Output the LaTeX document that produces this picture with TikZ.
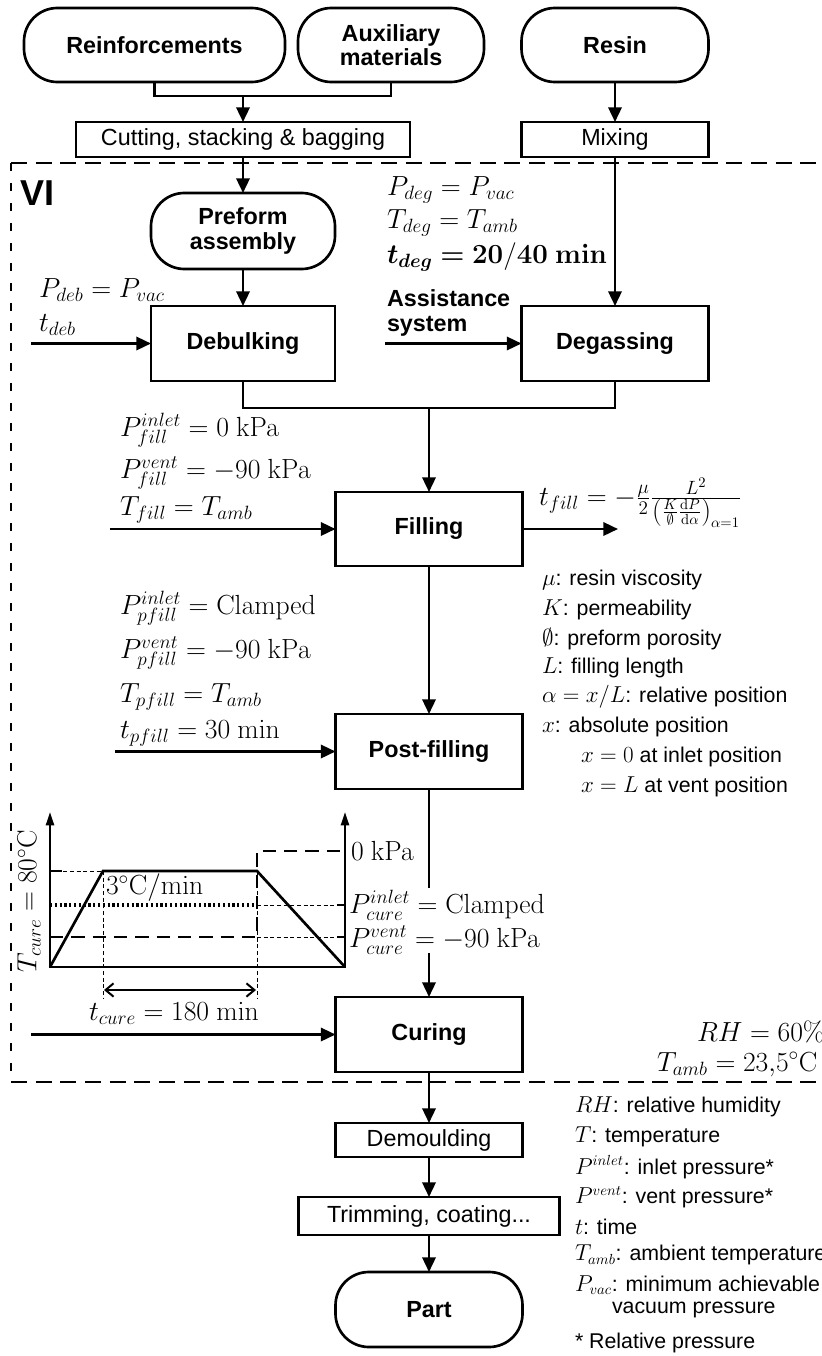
\documentclass[tikz,border=0pt]{standalone}
\usepackage[no-math]{fontspec}
\usepackage{bm}
\setmainfont{Liberation Sans}
\usetikzlibrary{arrows.meta,calc}

\tikzset{
  every node/.style={inner sep=0pt, outer sep=0pt},
  boxfont/.style={font=\fontsize{17.5}{18}\selectfont},
  boldfont/.style={font=\fontsize{17.5}{18}\selectfont\bfseries},
  proc/.style={draw, line width=2pt, rectangle, boldfont, align=center,
    minimum width=140.25pt, minimum height=56.25pt},
  plainbox/.style={draw, line width=2pt, rectangle, boxfont, align=center,
    minimum width=140.25pt, minimum height=26.25pt},
  pill/.style={draw, line width=2pt, rectangle, rounded corners=25pt,
    font=\fontsize{17.5}{18.5}\selectfont\bfseries, align=center,
    minimum width=140.25pt, minimum height=55.5pt},
  mathlbl/.style={anchor=west, font=\fontsize{19.5}{22}\selectfont},
  legend/.style={anchor=west, font=\fontsize{16}{19}\selectfont},
  link/.style={line width=1.8pt},
  flow/.style={line width=1.8pt, -{Triangle[length=11pt,width=10pt]}},
  border/.style={line width=1.8pt},
  gline/.style={line width=2pt, line join=miter},
  gaxis/.style={line width=1.8pt, -{Triangle[length=10pt,width=6pt]}},
  gdash/.style={line width=2.2pt, dash pattern=on 10pt off 6pt},
  gdot/.style={line width=2.6pt, dash pattern=on 1.6pt off 2pt},
  thin guide/.style={line width=0.6pt, dash pattern=on 3pt off 2pt},
}

\begin{document}
\begin{tikzpicture}[x=0.75pt, y=-0.75pt]
\useasboundingbox (0,0) rectangle (821,1356);

% --- dashed frame of the process (right side runs off the page)
\draw[border, dash pattern=on 12pt off 6.5pt] (11,163) -- (840,163);
\draw[border, dash pattern=on 12pt off 6.5pt] (11,1082) -- (840,1082);
\draw[border, dash pattern=on 6pt off 9pt] (11,163) -- (11,1082);
\node[anchor=west, font=\fontsize{27}{28}\selectfont\bfseries] (vi) at (20,193) {VI};

% --- raw materials
\node[pill, minimum width=195.75pt] (reinf) at (154.5,45) {Reinforcements};
\node[pill, minimum width=139.5pt] (aux) at (391,45) {Auxiliary\\materials};
\node[pill, minimum width=140.25pt] (resin) at (615,45) {Resin};

\node[plainbox, minimum width=250.5pt] (cut) at (243,139.5) {Cutting, stacking \& bagging};
\node[plainbox] (mix) at (615,139.5) {Mixing};

\coordinate (j1) at (243,96);
\draw[link] (reinf.south) |- (j1) -| (aux.south);
\draw[flow] (j1) -- (cut.north);
\draw[flow] (resin) -- (mix);

% --- preform and resin preparation
\node[pill, minimum width=138pt, minimum height=57pt] (pre) at (243,231) {Preform\\assembly};
\node[proc, minimum width=138pt] (deb) at (243,343.5) {Debulking};
\node[proc] (deg) at (615,343.5) {Degassing};

\draw[flow] (cut) -- (pre);
\draw[flow] (pre) -- (deb);
\draw[flow] (mix) -- (deg);

\node[mathlbl] (pdeg) at (387,190) {$P_{deg} = P_{vac}$};
\node[mathlbl] (tdeg) at (387,223) {$T_{deg} = T_{amb}$};
\node[mathlbl] (ttdeg) at (387,257) {$\bm{t_{deg}} \bm{=} \mathbf{20/40\ min}$};
\node[mathlbl] (pdeb) at (39,290) {$P_{deb} = P_{vac}$};
\node[mathlbl] (tdeb) at (39,325) {$t_{deb}$};
\node[anchor=west, font=\fontsize{17.5}{19}\selectfont\bfseries, align=left] (assist) at (387,313) {Assistance\\system};

\coordinate (i1) at (31,343.5);
\coordinate (i2) at (385,343.5);
\draw[flow] (i1) -- (deb.west);
\draw[flow] (i2) -- (deg.west);

% --- filling
\node[proc, minimum height=55.5pt] (fill) at (429,529) {Filling};
\coordinate (j2) at (429,408);
\draw[link] (deb.south) |- (j2) -| (deg.south);
\draw[flow] (j2) -- (fill.north);

\node[mathlbl] (pfi) at (120,430) {$P_{fill}^{inlet} = 0\ \mathrm{kPa}$};
\node[mathlbl] (pfv) at (120,473) {$P_{fill}^{vent} = -90\ \mathrm{kPa}$};
\node[mathlbl] (tf) at (120,510) {$T_{fill} = T_{amb}$};
\coordinate (i3) at (110,529);
\draw[flow] (i3) -- (fill.west);
\coordinate (o1) at (618,529);
\draw[flow] (fill.east) -- (o1);
\node[anchor=base west, font=\fontsize{21.5}{24}\selectfont] (tfill) at (539,505)
  {$t_{fill} = -\frac{\mu}{2}\frac{L^2}{\left(\frac{K}{\emptyset}\frac{\mathrm{d}P}{\mathrm{d}\alpha}\right)_{\alpha=1}}$};

% --- symbols of the filling time
\node[legend] (m1) at (542,580) {$\mu$: resin viscosity};
\node[legend] (m2) at (542,610) {$K$: permeability};
\node[legend] (m3) at (542,639) {$\emptyset$: preform porosity};
\node[legend] (m4) at (542,668) {$L$: filling length};
\node[legend] (m5) at (542,697) {$\alpha = x/L$: relative position};
\node[legend] (m6) at (542,727) {$x$: absolute position};
\node[legend] (m7) at (581,757) {$x = 0$ at inlet position};
\node[legend] (m8) at (581,787) {$x = L$ at vent position};

% --- post-filling
\node[proc] (post) at (429,751.5) {Post-filling};
\draw[flow] (fill) -- (post);
\node[mathlbl] (ppi) at (120,608) {$P_{pfill}^{inlet} = \mathrm{Clamped}$};
\node[mathlbl] (ppv) at (120,653) {$P_{pfill}^{vent} = -90\ \mathrm{kPa}$};
\node[mathlbl] (tp) at (120,697) {$T_{pfill} = T_{amb}$};
\node[mathlbl] (ttp) at (120,733) {$t_{pfill} = 30\ \mathrm{min}$};
\coordinate (i4) at (115,751.5);
\draw[flow] (i4) -- (post.west);

% --- curing cycle
\draw[thin guide] (50,871) -- (103,871);
\draw[thin guide] (103,871) -- (103,998);
\draw[thin guide] (257,871) -- (257,998);
\draw[thin guide] (257,905) -- (345,905);
\draw[thin guide] (257,937) -- (345,937);
\draw[gaxis] (50,968) -- (50,812);
\draw[gaxis] (345,968) -- (345,812);
\draw[gline] (50,967) -- (345,967);
\draw[gline] (50,967) -- (103,871) -- (257,871) -- (345,967);
\draw[line width=2pt] (50,871) -- (62,871);
\draw[gdot] (50,905) -- (257,905);
\draw[gdash] (50,937) -- (257,937) -- (257,851) -- (345,851);
\draw[line width=1.8pt] (337,905) -- (345,905);
\draw[line width=1.8pt] (337,937) -- (345,937);
\draw[line width=1.5pt, {Straight Barb[length=6pt,width=10pt]}-{Straight Barb[length=6pt,width=10pt]}] (104,990) -- (256,990);

\node[anchor=west, font=\fontsize{20}{22}\selectfont] (rate) at (106,888) {$3^{\circ}\mathrm{C}/\mathrm{min}$};
\node[font=\fontsize{20}{22}\selectfont, rotate=90] (tcure) at (29,901) {$T_{cure} = 80^{\circ}\mathrm{C}$};
\node[mathlbl] (zero) at (351,851) {$0\ \mathrm{kPa}$};
\node[mathlbl] (pci) at (349,905) {$P_{cure}^{inlet} = \mathrm{Clamped}$};
\node[mathlbl] (pcv) at (349,940) {$P_{cure}^{vent} = -90\ \mathrm{kPa}$};
\node[mathlbl] (ttc) at (89,1013) {$t_{cure} = 180\ \mathrm{min}$};

\node[proc] (cure) at (429,1034.5) {Curing};
\coordinate (c1) at (429,888);
\coordinate (c2) at (429,953);
\draw[link] (post.south) -- (c1);
\draw[flow] (c2) -- (cure.north);
\coordinate (i5) at (31,1034.5);
\draw[flow] (i5) -- (cure.west);

\node[anchor=base west, font=\fontsize{19.5}{22}\selectfont] (rh) at (697,1041) {$RH = 60\%$};
\node[anchor=base west, font=\fontsize{19.5}{22}\selectfont] (tamb) at (657,1071) {$T_{amb} = 23{,}5^{\circ}\mathrm{C}$};

% --- finishing
\node[plainbox, minimum height=25.5pt] (demo) at (429,1140) {Demoulding};
\node[plainbox, minimum width=195.75pt, minimum height=28.5pt] (trim) at (429,1216) {Trimming, coating...};
\node[pill, minimum height=56.25pt] (part) at (429,1309.5) {Part};
\draw[flow] (cure) -- (demo);
\draw[flow] (demo) -- (trim);
\draw[flow] (trim) -- (part);

% --- general symbols
\node[legend] (s1) at (575,1107) {$RH$: relative humidity};
\node[legend] (s2) at (575,1137) {$T$: temperature};
\node[legend] (s3) at (575,1167) {$P^{inlet}$: inlet pressure*};
\node[legend] (s4) at (575,1197) {$P^{vent}$: vent pressure*};
\node[legend] (s5) at (575,1227) {$t$: time};
\node[legend] (s6) at (575,1255) {$T_{amb}$: ambient temperature};
\node[legend] (s7) at (575,1285) {$P_{vac}$: minimum achievable};
\node[legend] (s8) at (612,1310) {vacuum pressure};
\node[legend] (s9) at (575,1343) {* Relative pressure};
\end{tikzpicture}
\end{document}
